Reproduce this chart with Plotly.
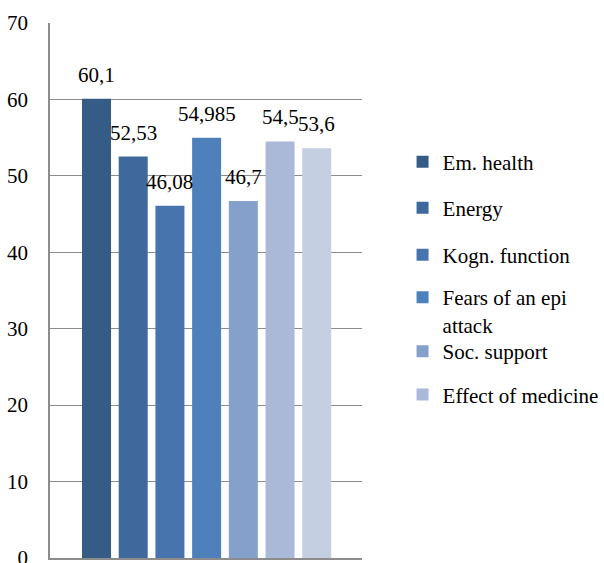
import plotly.graph_objects as go

# Scale scores per domain
domains = ["Em. health", "Energy", "Kogn. function", "Fears of an epi<br>attack",
           "Soc. support", "Effect of medicine", "Overall"]
scores = [60.1, 52.53, 46.08, 54.985, 46.7, 54.5, 53.6]
colors = ["#355B87", "#3F699C", "#4874AE", "#4E80BC", "#85A0CA", "#AAB9D7", "#C4CFE2"]
y_ticks = [0, 10, 20, 30, 40, 50, 60, 70]

FONT = "Liberation Serif, DejaVu Serif"
GRID = "#8c8c8c"

# legend row centres (paper y) for the visible entries
legend_y = [0.740, 0.654, 0.566, 0.490, 0.386, 0.305]

fig = go.Figure()
for i, (name, val, col) in enumerate(zip(domains, scores, colors)):
    legend_id = "legend" if i == 0 else f"legend{i + 1}"
    fig.add_trace(go.Bar(
        x=[i], y=[val], name=name, marker=dict(color=col, line=dict(width=0)),
        width=0.79, showlegend=i < len(legend_y),
        legend=legend_id if i < len(legend_y) else None,
    ))
    fig.add_annotation(
        x=i, y=val, text=str(val).replace(".", ","), showarrow=False,
        yanchor="bottom", yshift=10, font=dict(family=FONT, size=21, color="black"),
    )

layout_legends = {}
for i, ly in enumerate(legend_y):
    key = "legend" if i == 0 else f"legend{i + 1}"
    multi = "<br>" in domains[i]
    layout_legends[key] = dict(
        x=1.13, xanchor="left", y=ly + (0.035 if multi else 0),
        yanchor="top" if multi else "middle",
        valign="top", bgcolor="rgba(0,0,0,0)", borderwidth=0,
        font=dict(family=FONT, size=21, color="black"),
        itemclick=False, tracegroupgap=0,
    )

fig.update_layout(
    width=604, height=563,
    margin=dict(l=50, r=242, t=23, b=5, autoexpand=False),
    paper_bgcolor="white", plot_bgcolor="white",
    barmode="overlay",
    font=dict(family=FONT, size=21, color="black"),
    xaxis=dict(range=[-1.267, 7.233], showticklabels=False, showgrid=False,
               zeroline=False, showline=True, linecolor=GRID, linewidth=1.5,
               ticks="", automargin=False),
    yaxis=dict(range=[0, 70], tickvals=y_ticks, showgrid=True, gridcolor=GRID,
               gridwidth=1.3, zeroline=False, showline=True, linecolor=GRID,
               linewidth=1.5, ticks="", ticklabelstandoff=16,
               ticklabeloverflow="allow", automargin=False,
               tickfont=dict(family=FONT, size=21, color="black")),
    **layout_legends,
)

fig.write_html("out.html")
